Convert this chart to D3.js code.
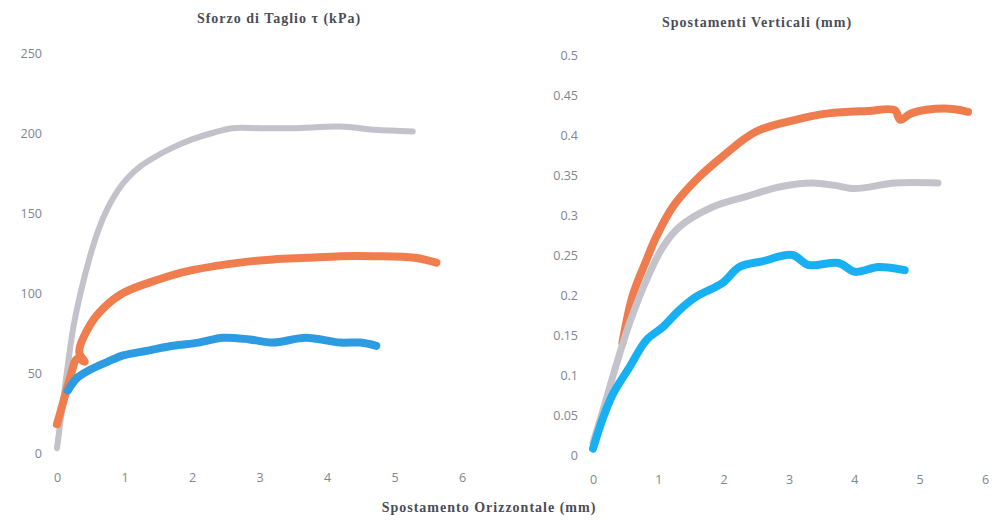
<!DOCTYPE html>
<html>
<head>
<meta charset="utf-8">
<script src="https://cdn.jsdelivr.net/npm/d3@7"></script>
<style>
  body { margin: 0; background: #fff; }
  svg { display: block; }
  .tick text { fill: #80858f; font-family: "Open Sans", sans-serif; font-size: 12.5px; }
  .title { fill: #4a4d55; font-family: "Liberation Serif", serif; font-weight: bold; font-size: 14px; letter-spacing: 1px; }
</style>
</head>
<body>
<svg id="chart" width="994" height="520"></svg>
<script>
// sforzo di taglio (kPa) vs spostamento orizzontale (mm)
var shearGray = [[0, 3], [0.12, 42], [0.24, 78], [0.36, 102], [0.49, 123], [0.61, 139], [0.75, 153], [0.9, 164],
  [1.05, 172], [1.23, 179], [1.45, 185], [1.72, 191], [2.0, 196], [2.3, 200], [2.6, 203], [3.0, 203], [3.5, 203],
  [4.2, 204], [4.7, 202], [5.27, 201]];
var shearOrange = [[0, 18], [0.1, 33], [0.2, 48], [0.3, 59], [0.41, 57], [0.33, 63], [0.49, 80], [0.7, 91],
  [0.98, 100], [1.47, 108], [1.97, 114], [2.71, 119], [3.2, 121], [3.7, 122], [4.2, 123], [4.68, 123],
  [5.3, 122], [5.62, 119]];
var shearBlue = [[0.16, 39], [0.3, 47], [0.49, 52], [0.75, 57], [0.98, 61], [1.35, 64], [1.72, 67], [2.1, 69],
  [2.46, 72], [2.85, 71], [3.2, 69], [3.69, 72], [4.19, 69], [4.5, 69], [4.73, 67]];

// spostamenti verticali (mm) vs spostamento orizzontale (mm)
var vertGray = [[0, 0.015], [0.15, 0.055], [0.31, 0.1], [0.56, 0.165], [0.82, 0.219], [1.07, 0.26], [1.32, 0.285],
  [1.83, 0.31], [2.34, 0.323], [2.85, 0.335], [3.35, 0.34], [3.7, 0.337], [4.01, 0.333], [4.62, 0.34], [5.28, 0.34]];
var vertOrange = [[0.45, 0.14], [0.61, 0.2], [0.82, 0.244], [0.97, 0.273], [1.22, 0.31], [1.58, 0.344], [1.98, 0.373],
  [2.49, 0.404], [3.1, 0.419], [3.6, 0.427], [4.2, 0.43], [4.62, 0.431], [4.7, 0.419], [4.87, 0.427], [5.38, 0.433], [5.74, 0.429]];
var vertBlue = [[0, 0.008], [0.16, 0.048], [0.31, 0.077], [0.56, 0.11], [0.82, 0.144], [1.07, 0.16], [1.32, 0.181],
  [1.58, 0.198], [1.98, 0.215], [2.24, 0.235], [2.59, 0.242], [3.05, 0.25], [3.3, 0.2375], [3.76, 0.24],
  [4.01, 0.229], [4.37, 0.235], [4.77, 0.231]];

var leftYTicks = [0, 50, 100, 150, 200, 250];
var rightYTicks = [0, 0.05, 0.1, 0.15, 0.2, 0.25, 0.3, 0.35, 0.4, 0.45, 0.5];
var xTicks = [0, 1, 2, 3, 4, 5, 6];

var svg = d3.select("#chart");

function panel(cfg) {
  var x = d3.scaleLinear().domain([0, 6]).range([cfg.x0, cfg.x1]);
  var y = d3.scaleLinear().domain([0, cfg.yMax]).range([cfg.y0, cfg.y1]);

  svg.append("g")
    .attr("transform", "translate(" + cfg.yLabelX + ",0)")
    .call(d3.axisLeft(y).tickValues(cfg.yTicks).tickSize(0).tickPadding(0).tickFormat(cfg.fmt))
    .select(".domain").remove();

  svg.append("g")
    .attr("transform", "translate(0," + cfg.xLabelY + ")")
    .call(d3.axisBottom(x).tickValues(xTicks).tickSize(0).tickPadding(0).tickFormat(d3.format("d")))
    .select(".domain").remove();

  var line = d3.line()
    .x(function(d) { return x(d[0]); })
    .y(function(d) { return y(d[1]); })
    .curve(d3.curveCatmullRom);

  cfg.series.forEach(function(s) {
    svg.append("path")
      .datum(s.data)
      .attr("fill", "none")
      .attr("stroke", s.color)
      .attr("stroke-width", s.width)
      .attr("stroke-linecap", "round")
      .attr("stroke-linejoin", "round")
      .attr("d", line);
  });

  svg.append("text")
    .attr("class", "title")
    .attr("x", cfg.titleX)
    .attr("y", cfg.titleY)
    .attr("text-anchor", "middle")
    .text(cfg.title);
}

panel({
  x0: 57, x1: 462, y0: 453, y1: 53, yMax: 250,
  yLabelX: 42, xLabelY: 473, yTicks: leftYTicks, fmt: d3.format("d"),
  title: "Sforzo di Taglio τ (kPa)", titleX: 279, titleY: 23,
  series: [
    { data: shearGray, color: "#c3c2ca", width: 6 },
    { data: shearOrange, color: "#f07d4e", width: 8 },
    { data: shearBlue, color: "#2d9be2", width: 8 }
  ]
});

panel({
  x0: 593, x1: 985, y0: 455, y1: 55, yMax: 0.5,
  yLabelX: 578, xLabelY: 475, yTicks: rightYTicks, fmt: function(d) { return String(d); },
  title: "Spostamenti Verticali (mm)", titleX: 757, titleY: 27,
  series: [
    { data: vertOrange, color: "#ef7c4e", width: 8 },
    { data: vertGray, color: "#c4c3cc", width: 7 },
    { data: vertBlue, color: "#17b0f2", width: 8 }
  ]
});

svg.append("text")
  .attr("class", "title")
  .attr("x", 489)
  .attr("y", 512)
  .attr("text-anchor", "middle")
  .text("Spostamento Orizzontale (mm)");
</script>
</body>
</html>
